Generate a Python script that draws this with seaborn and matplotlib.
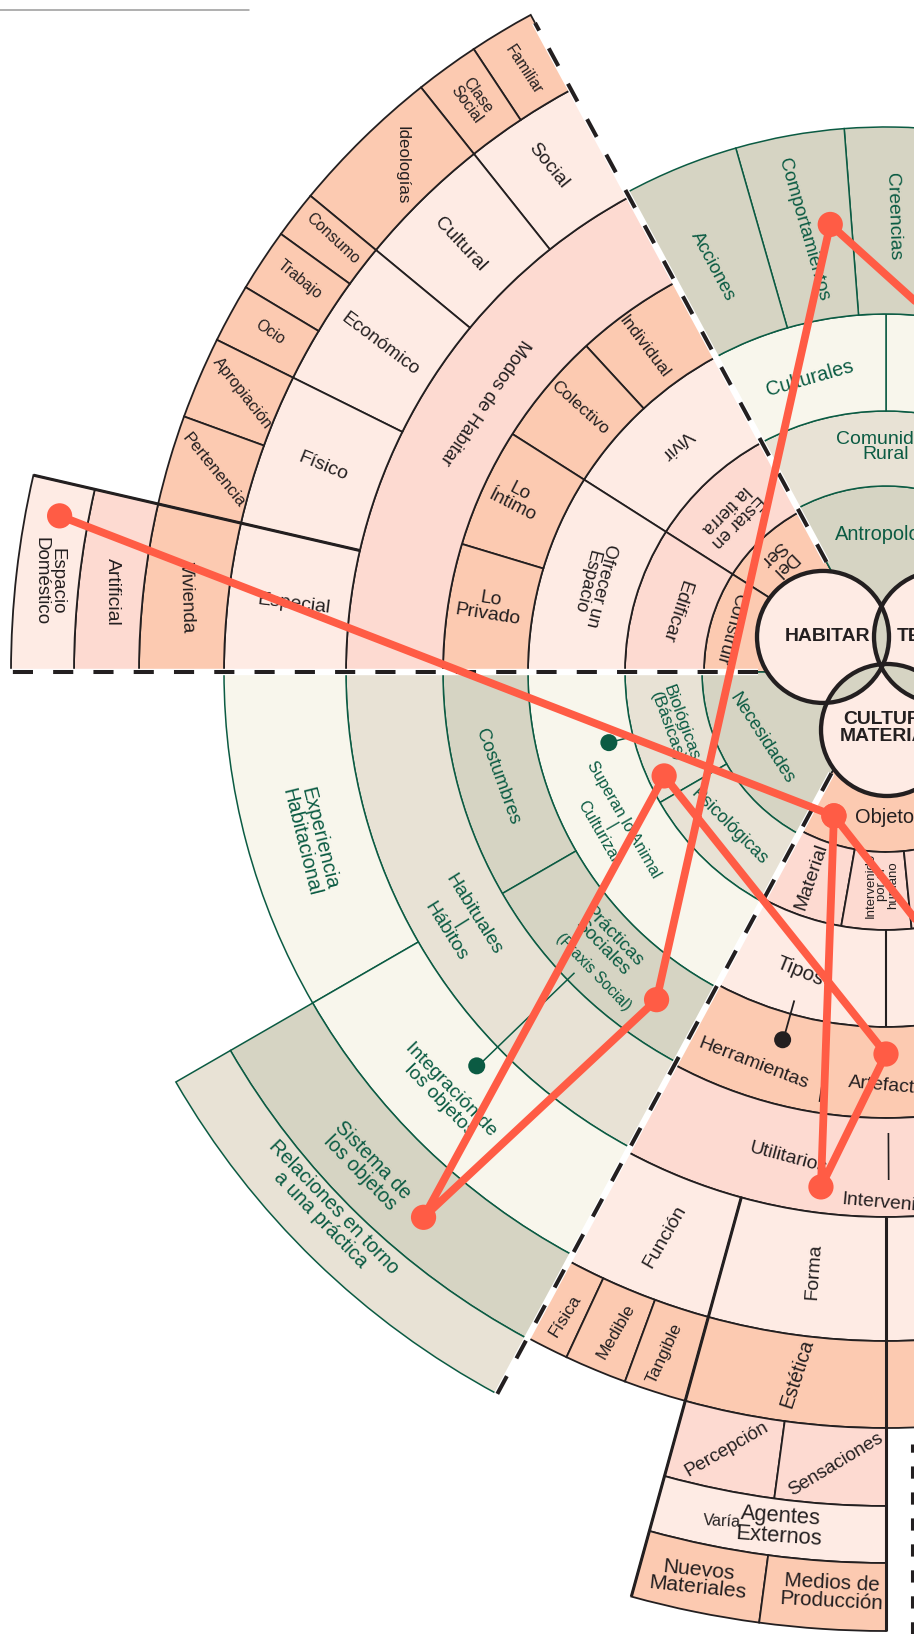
import numpy as np
import pandas as pd
import matplotlib
matplotlib.use("Agg")
import matplotlib.pyplot as plt
import seaborn as sns
from matplotlib import font_manager as fm
from matplotlib.patches import Wedge, Circle

sns.set_theme(style="white")
# fuente condensada si existe; si no, Liberation Sans algo mas chica
_fams = {f.name for f in fm.fontManager.ttflist}
if 'Liberation Sans Narrow' in _fams:
    FONT, FS = 'Liberation Sans Narrow', 1.0
else:
    FONT, FS = 'Liberation Sans', 0.9
plt.rcParams['font.family'] = [FONT, 'DejaVu Sans']

# centro del diagrama (pixeles, y hacia arriba)
CX, CY = 886, 962

SALMON = '#FCCAB1'
PINK = '#FDDAD1'
LIGHT = '#FEEBE4'
SAGE = '#D6D4C3'
BEIGE = '#E8E2D5'
CREAM = '#F8F6EC'
GREEN = '#0B5B43'
INK = '#231F20'
RED = '#FF5C45'

# ---------------- datos: anillos (radios) y cortes angulares por sector ----------------
hab_radii = [0, 182, 261, 358, 443, 540, 662, 747, 812, 875]
hab_cuts = [[118.4, 147.5, 180], [118.4, 147.5, 180], [118.4, 147.5, 180],
            [118.4, 132.6, 147.5, 163.2, 180], [118.4, 180],
            [118.4, 128.5, 140.4, 153.6, 167, 180],
            [118.4, 123.5, 128.5, 140.4, 144.1, 149, 153.6, 160, 167, 180],
            [167, 180], [167, 180]]
hab_fill = [SALMON, PINK, LIGHT, SALMON, PINK, LIGHT, SALMON, PINK, LIGHT]

top_radii = [0, 186, 261, 358, 545]
top_cuts = [[60, 118.4], [60, 118.4], [60, 90, 118.4], [60, 83.6, 94.4, 106, 118.4]]
top_fill = [SAGE, BEIGE, CREAM, SAGE]

left_radii = [0, 184, 261, 358, 443, 540, 662, 757, 820]
left_cuts = [[180, 241.7], [180, 210, 241.7], [180, 241.7], [180, 210, 241.7],
             [180, 241.7], [180, 210, 241.7], [210, 241.7], [210, 241.7]]
left_fill = [SAGE, BEIGE, CREAM, SAGE, BEIGE, CREAM, SAGE, BEIGE]

low_radii = [0, 180, 258, 355, 446, 545, 669, 756, 834, 891, 959]
low_cuts = [[241.7, 300], [241.7, 260, 275.7, 300], [241.7, 270, 300], [241.7, 300],
            [241.7, 300], [241.7, 254.6, 270, 300], [241.7, 245, 249.8, 254.6, 270, 300],
            [254.6, 262.3, 270], [254.6, 270], [254.6, 262.4, 270]]
low_fill = [SALMON, PINK, LIGHT, SALMON, PINK, LIGHT, SALMON, PINK, LIGHT, SALMON]

# etiquetas: texto, angulo, radio, rotacion, tamano
hab_labels = [
    ("Familiar", 121.0, 703, -57, 12.5), ("Clase\nSocial", 125.9, 706, -54, 12.5),
    ("Ideologías", 133.7, 701, -90, 13.5), ("Consumo", 141.9, 703, -43, 12.5),
    ("Trabajo", 146.2, 706, -39, 12.5), ("Ocio", 151.1, 704, -34, 12.5),
    ("Apropiación", 156.6, 701, -52, 13), ("Pertenencia", 163.3, 702, -51, 13.5),
    ("Vivienda", 173.9, 703, -88, 15), ("Artificial", 174.1, 778, -90, 15.5),
    ("Espacio\nDoméstico", 173.8, 842, -90, 15),
    ("Social", 123.7, 608, -51, 15.5), ("Cultural", 134.9, 604, -47, 15.5),
    ("Económico", 147.1, 603, -37, 15), ("Físico", 159.9, 599, -22, 15.5),
    ("Especial", 173.5, 596, -7, 15.5), ("Modos de Habitar", 146.0, 484, 236, 15),
    ("Individual", 126.6, 405, -53, 14), ("Colectivo", 139.2, 404, -42, 14),
    ("Lo\nÍntimo", 154.9, 408, -27, 15), ("Lo\nPrivado", 170.7, 402, -9, 15.5),
    ("Vivir", 132.7, 309, 223, 15), ("Ofrecer un\nEspacio", 163.1, 306, -104, 14.5),
    ("Edificar", 164.0, 219, -108, 15.5), ("Estar en\nla tierra", 134.6, 220, 225, 14.5),
    ("Del\nSer", 133.7, 156, 224, 15), ("Construir", 164.4, 162, -105, 14.5),
]
green_labels = [
    ("Acciones", 113.1, 441, -62, 15), ("Comportamientos", 100.6, 450, -74, 15),
    ("Creencias", 89.1, 455, -88, 15.5), ("Culturales", 104.5, 303, 16, 16),
    ("Comunidad\nRural", 90.0, 225, 0, 15.5),
    ("Necesidades", 208.1, 141, -57, 14.5), ("Biológicas\n(Básicas)", 194.0, 218, -70, 14),
    ("Psicológicas", 224.6, 220, -45, 14.5), ("Superan lo Animal\n|\nCulturizan", 209.4, 315, -60, 13),
    ("Costumbres", 195.1, 402, -70, 15), ("Prácticas\nSociales", 224.1, 388, -46, 15),
    ("(Praxis Social)", 225.8, 419, -46, 12.5), ("Habituales\n|\nHábitos", 210.5, 495, -58, 15.5),
    ("Experiencia\nHabitacional", 196.3, 600, -76, 16),
    ("Integración de\nlos objetos", 223.8, 611, -46, 15.5),
    ("Sistema de\nlos objetos", 223.6, 717, -46, 16),
    ("Relaciones en torno\na una práctica", 224.1, 778, -46, 16),
]
low_labels = [
    ("Material", 250.1, 218, 71, 15.5), ("Intervenido\npor el\nhumano", 268.9, 213, 90, 10.5),
    ("Tipos", 254.0, 312, -22, 16.5), ("Herramientas", 251.3, 413, -21, 15.5),
    ("Utilitarios", 258.6, 496, -15, 15.5), ("Función", 248.6, 607, 60, 15.5),
    ("Forma", 263.1, 604, 86, 15.5), ("Física", 243.5, 719, 58, 14),
    ("Medible", 247.7, 713, 60, 14), ("Tangible", 252.0, 716, 65, 14),
    ("Estética", 262.8, 707, 72, 16), ("Percepción", 258.4, 793, 30, 15),
    ("Sensaciones", 266.4, 794, 31, 15), ("Varía", 259.1, 865, -3, 13),
    ("Agentes\nExternos", 262.9, 861, -4, 17.5), ("Nuevos\nMateriales", 258.3, 926, -6, 17),
    ("Medios de\nProducción", 266.6, 922, -3, 16.5),
]
# etiquetas cortadas por el borde (alineadas a la izquierda)
edge_labels = [("Antropología", 110.3, 147, 0, 16, GREEN), ("Objetos", 258.0, 149, 0, 16, INK),
               ("Artefactos", 264.7, 412, -5, 15.5, INK), ("Intervenidos", 265.2, 529, -5, 15.5, INK)]

# circulos centrales (angulo, radio desde el centro)
venn_names = ["HABITAR", "TERRITORIO", "CULTURA\nMATERIAL"]
venn_theta = [150.9, 33.0, 271.0]
venn_dist = [72.1, 64.4, 58.0]

# recorrido rojo (angulo, radio)
path_theta = [65.4, 97.1, 235.0, 229.7, 205.1, 270.0, 262.8, 250.1, 169.3]
path_r = [309, 451, 400, 715, 245, 382, 519, 153, 841]
branch_theta = [250.1, 284.4]
branch_r = [153, 322]

# ---------------- dibujo ----------------
fig = plt.figure(figsize=(9.14, 16.34), dpi=100)
ax = fig.add_axes([0, 0, 1, 1])


def pol(theta, r):
    t = np.deg2rad(np.asarray(theta, dtype=float))
    return CX + np.asarray(r) * np.cos(t), CY + np.asarray(r) * np.sin(t)


def sector(radii, cuts, fills, edge, lw):
    for i, (ring_cuts, col) in enumerate(zip(cuts, fills)):
        r1, r2 = radii[i], radii[i + 1]
        for t1, t2 in zip(ring_cuts[:-1], ring_cuts[1:]):
            ax.add_patch(Wedge((CX, CY), r2, t1, t2, width=r2 - r1, facecolor=col,
                               edgecolor=edge, lw=lw, zorder=1))


sector(hab_radii, hab_cuts, hab_fill, INK, 1.3)
sector(top_radii, top_cuts, top_fill, GREEN, 1.1)
sector(left_radii, left_cuts, left_fill, GREEN, 1.1)
sector(low_radii, low_cuts, low_fill, INK, 1.3)


def radial(theta, r1, r2, color=INK, lw=2.2, z=2):
    x, y = pol([theta, theta], [r1, r2])
    ax.plot(x, y, color=color, lw=lw, solid_capstyle='butt', zorder=z)


# divisiones gruesas
radial(167, 540, 875)
radial(254.6, 545, 959)
radial(270, 545, 959)
radial(270, 258, 355, lw=1.5)
# separadores cortos
radial(261.2, 388, 435, lw=1.2)
radial(270.3, 461, 508, lw=1.2)

# lineas punteadas entre sectores
for th, r1, r2 in [(118.4, 125, 738), (180, 128, 876), (241.7, 115, 822)]:
    x, y = pol([th, th], [r1, r2])
    ax.plot(x, y, color='white', lw=4.6, solid_capstyle='butt', zorder=3)
    ax.plot(x, y, color=INK, lw=2.9, dashes=(5, 5), zorder=3.1)
# borde punteado derecho (abajo)
ax.plot([911.5, 911.5], [0, 190], color=INK, lw=2.2, dashes=(4, 4.5), zorder=3.1)

# circulos
R = 66
centers = [pol(t, d) for t, d in zip(venn_theta, venn_dist)]
for c in centers:
    ax.add_patch(Circle(c, R, facecolor=LIGHT, edgecolor='none', zorder=4))
for i in range(3):
    for j in range(i + 1, 3):
        lens = Circle(centers[i], R, facecolor=SAGE, edgecolor='none', zorder=4.5)
        ax.add_patch(lens)
        lens.set_clip_path(Circle(centers[j], R, transform=ax.transData))
for c in centers:
    ax.add_patch(Circle(c, R, fill=False, edgecolor=INK, lw=3.1, zorder=5))
ax.text(centers[0][0] + 4, centers[0][1], venn_names[0], ha='center', va='center',
        fontsize=15.5 * FS, fontweight='bold', color=INK, zorder=6)
ax.text(centers[1][0] - 43, centers[1][1], venn_names[1], ha='left', va='center',
        fontsize=15.5 * FS, fontweight='bold', color=INK, zorder=6)
ax.text(centers[2][0] + 2, centers[2][1] + 2, venn_names[2], ha='center', va='center',
        fontsize=15.5 * FS, fontweight='bold', color=INK, zorder=6, linespacing=0.95)

# textos
for labels, col in [(hab_labels, INK), (green_labels, GREEN), (low_labels, INK)]:
    for s, th, r, rot, size in labels:
        x, y = pol(th, r)
        ax.text(x, y, s, rotation=rot, rotation_mode='anchor', ha='center', va='center',
                fontsize=size * FS, color=col, linespacing=0.92, zorder=6)
for s, th, r, rot, size, col in edge_labels:
    x, y = pol(th, r)
    ax.text(x, y, s, rotation=rot, rotation_mode='anchor', ha='left', va='center',
            fontsize=size * FS, color=col, zorder=6)

# punteros (puntos verdes y negro)
radial(194.3, 286, 266, color=GREEN, lw=1.1, z=6)
radial(224.0, 568, 433, color=GREEN, lw=1.1, z=6)
radial(254.4, 381, 341, color=INK, lw=1.3, z=6)
pts = pd.DataFrame({'theta': [194.3, 223.9, 254.3], 'r': [286, 568, 382],
                    'kind': ['g', 'g', 'k']})
pts['x'], pts['y'] = pol(pts['theta'], pts['r'])
sns.scatterplot(data=pts, x='x', y='y', hue='kind', palette={'g': GREEN, 'k': INK},
                s=150, edgecolor='none', legend=False, ax=ax, zorder=6.5)

# linea gris superior
ax.plot([0, 249], [1624, 1624], color='#9A9A9A', lw=1.1, zorder=6)

# recorrido rojo
path = pd.DataFrame({'theta': path_theta + branch_theta, 'r': path_r + branch_r,
                     'seg': [0] * len(path_r) + [1] * len(branch_r)})
path['x'], path['y'] = pol(path['theta'], path['r'])
sns.lineplot(data=path, x='x', y='y', units='seg', estimator=None, sort=False,
             color=RED, lw=5.6, solid_capstyle='round', ax=ax, zorder=7, legend=False)
sns.scatterplot(data=path, x='x', y='y', color=RED, s=330, edgecolor='none',
                ax=ax, zorder=8, legend=False)

ax.set_xlim(0, 914)
ax.set_ylim(0, 1634)
ax.set_aspect('equal')
ax.axis('off')
fig.savefig("out.png", dpi=100, facecolor='white')
